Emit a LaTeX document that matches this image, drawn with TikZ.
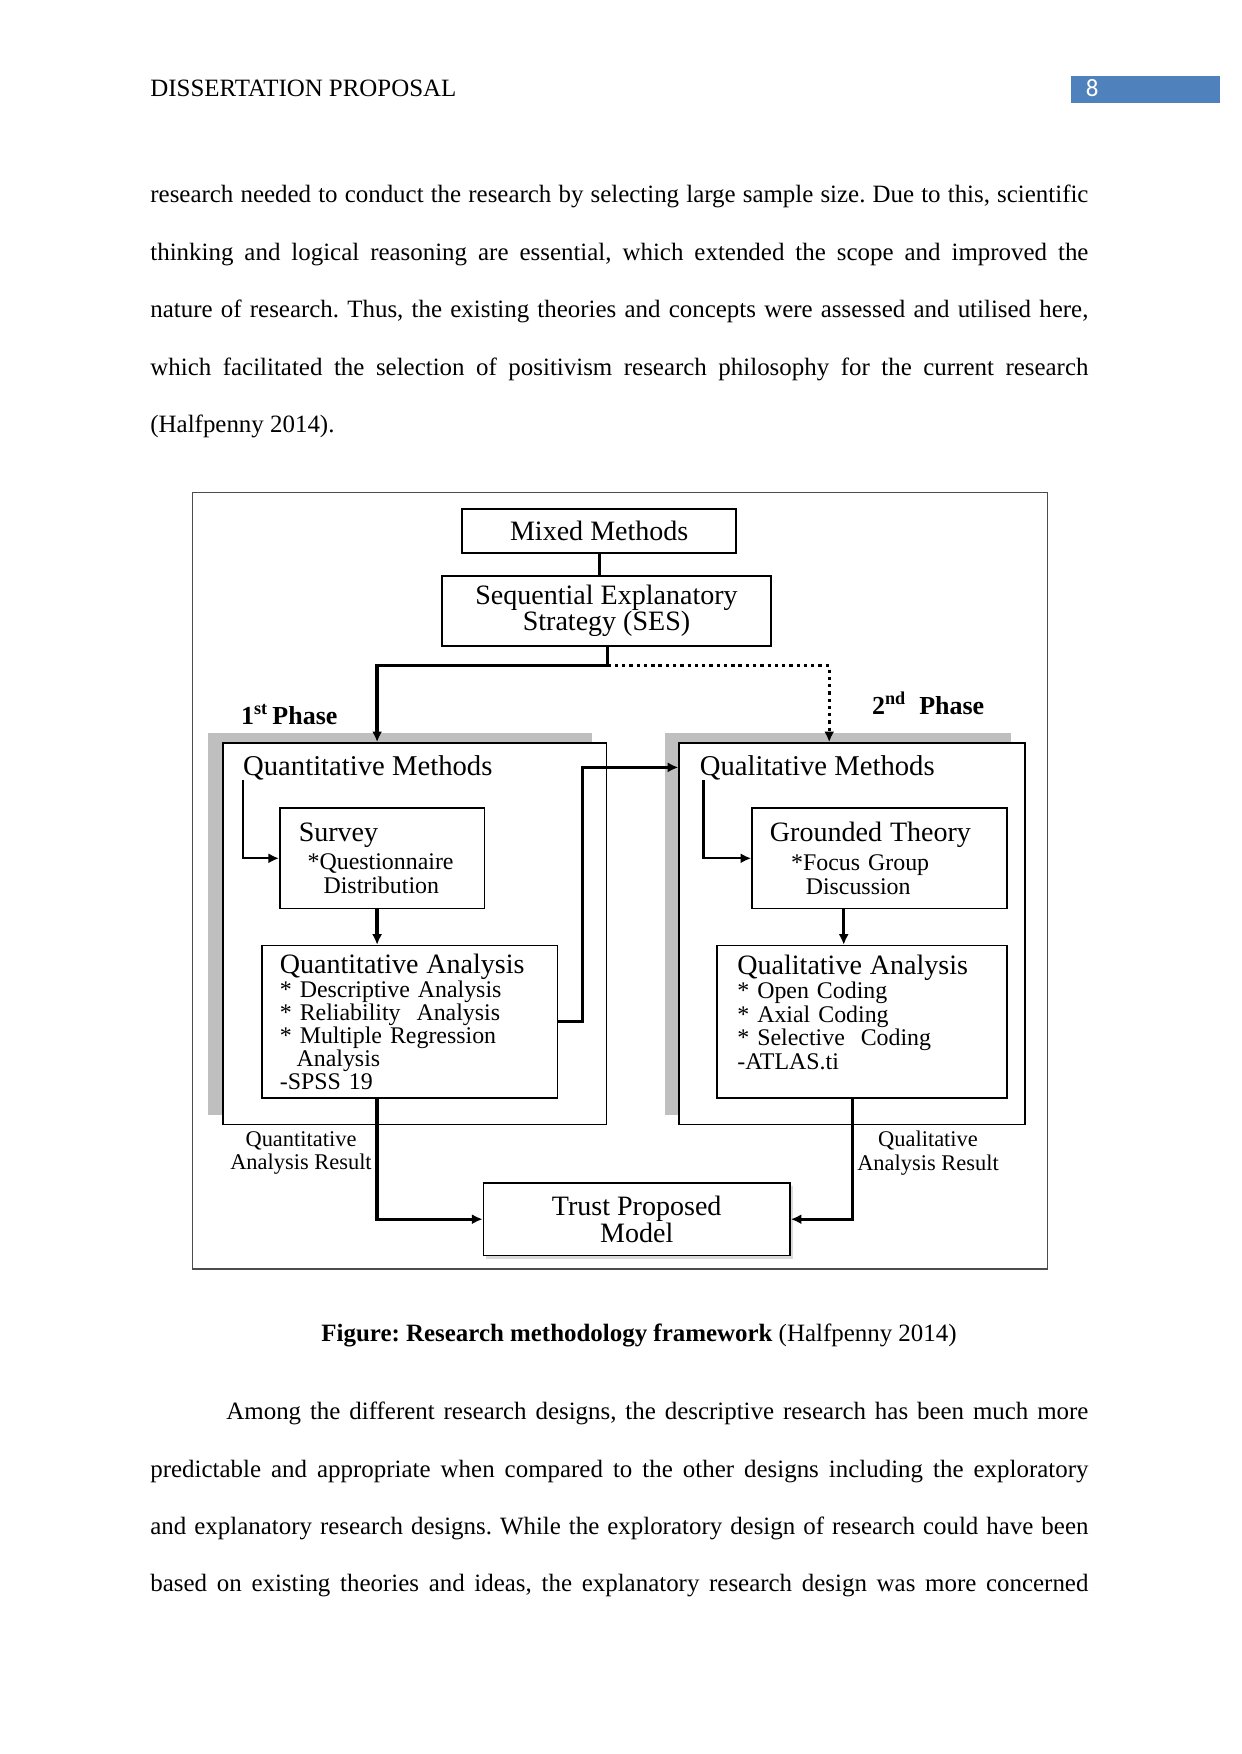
\documentclass[tikz,border=0pt]{standalone}
\usepackage{fontspec}
\setmainfont{Liberation Serif}
\newfontfamily\pagenumfont{Carlito}
\usepackage{xcolor}
\definecolor{pageblue}{RGB}{79,129,189}
\definecolor{shadowgray}{RGB}{191,191,191}
\usetikzlibrary{
  arrows.meta,
  positioning,
  calc,
  shadows
}
\frenchspacing

\begin{document}
\begin{tikzpicture}[
    x=0.16922mm, y=-0.16922mm,
    bodyline/.style={anchor=base west, inner sep=0pt, font=\fontsize{12}{14}\selectfont},
    titlebox/.style={draw, line width=0.8pt, fill=white, align=center, inner sep=0pt,
                     font=\fontsize{13.5}{12.8}\selectfont},
    methodbox/.style={draw, line width=0.8pt, fill=white, inner sep=0pt,
                      general shadow={fill=shadowgray, shadow xshift=-2.45mm, shadow yshift=1.7mm}},
    stepbox/.style={draw, line width=0.8pt, fill=white, align=left, inner ysep=0pt,
                    font=\fontsize{11.5}{11.5}\selectfont},
    boxtitle/.style={anchor=base west, inner sep=0pt, font=\fontsize{13.8}{13.8}\selectfont},
    phaselabel/.style={anchor=base west, inner sep=0pt, font=\fontsize{12.5}{12.5}\selectfont\bfseries},
    resultlabel/.style={align=center, inner sep=0pt, font=\fontsize{10.8}{11.3}\selectfont},
    conn/.style={line width=1.6pt},
    thinconn/.style={line width=1.1pt},
    >={Latex[length=1.8mm, width=1.7mm]}
  ]
  \useasboundingbox (0,0) rectangle (1241,1754);

  %% Page head
  \node[bodyline] (header) at (150,97) {DISSERTATION PROPOSAL};
  \fill[pageblue] (1071,76) rectangle (1220,103);
  \node[bodyline, font=\pagenumfont\fontsize{12}{14}\selectfont, text=white] (pagenum) at (1085.5,97) {8};

  %% Text above the figure
  \node[bodyline] (top1) at (150,203) {\makebox[158.73mm][s]{research needed to conduct the research by selecting large sample size. Due to this, scientific}};
  \node[bodyline] (top2) at (150,261) {\makebox[158.73mm][s]{thinking and logical reasoning are essential, which extended the scope and improved the}};
  \node[bodyline] (top3) at (150,318) {\makebox[158.73mm][s]{nature of research. Thus, the existing theories and concepts were assessed and utilised here,}};
  \node[bodyline] (top4) at (150,376) {\makebox[158.73mm][s]{which facilitated the selection of positivism research philosophy for the current research}};
  \node[bodyline] (top5) at (150,433) {(Halfpenny 2014).};

  %% Figure frame
  \draw[black!70, line width=0.7pt] (192.5,492.4) rectangle (1047.4,1268.9);

  %% Top of the strategy
  \node[titlebox, minimum width=46.4mm, minimum height=7.4mm] (mixed) at (599.2,531) {Mixed Methods};
  \node[titlebox, minimum width=55.67mm, minimum height=11.74mm] (ses) at (606.5,611) {Sequential Explanatory\\Strategy (SES)};

  %% Phase boxes
  \node[methodbox, minimum width=64.95mm, minimum height=64.58mm] (quant) at (414.6,933.8) {};
  \node[methodbox, minimum width=58.52mm, minimum height=64.58mm] (qual) at (852.1,933.8) {};
  \node[boxtitle] (quanttitle) at (242.8,775) {Quantitative Methods};
  \node[boxtitle] (qualtitle) at (699.4,775) {Qualitative Methods};

  \node[stepbox, inner xsep=3.2mm, text width=28.24mm, minimum height=17.04mm] (survey) at (382.2,858.3)
    {{\fontsize{13.5}{13.5}\selectfont Survey}\\[2.4pt]\hspace*{1.5mm}*Questionnaire\\\hspace*{4.2mm}Distribution};
  \node[stepbox, inner xsep=3.05mm, text width=43.9mm, minimum height=25.74mm,
        font=\fontsize{11.5}{11}\selectfont] (qa) at (409.6,1021.7)
    {{\fontsize{13.5}{13.5}\selectfont Quantitative Analysis}\\[0.8pt]{*} Descriptive Analysis\\{*} Reliability\ \ Analysis\\{*} Multiple Regression\\\hspace*{2.83mm}Analysis\\-SPSS 19};

  \node[stepbox, inner xsep=3.03mm, text width=37.11mm, minimum height=17.04mm] (gt) at (879.6,858.3)
    {{\fontsize{13.5}{13.5}\selectfont Grounded Theory}\\[2.4pt]\hspace*{3.59mm}*Focus Group\\\hspace*{6.06mm}Discussion};
  \node[stepbox, inner xsep=3.4mm, text width=42.24mm, minimum height=25.74mm,
        font=\fontsize{11.5}{11.3}\selectfont] (quala) at (862.2,1021.7)
    {{\fontsize{13.5}{13.5}\selectfont Qualitative Analysis}\\[0.5pt]{*} Open Coding\\{*} Axial Coding\\{*} Selective\ \ Coding\\-ATLAS.ti\\[-2pt]\mbox{}};

  \node[titlebox, minimum width=51.88mm, minimum height=12.3mm,
        drop shadow={fill=black!25, opacity=0.6, shadow xshift=0.5mm, shadow yshift=-0.6mm}]
    (trust) at (636.7,1219.2) {Trust Proposed\\Model};

  %% Labels
  \node[phaselabel] (phase1) at (240.6,724) {1\textsuperscript{st}\,Phase};
  \node[phaselabel] (phase2) at (871.7,714) {2\textsuperscript{nd}\ \ Phase};
  \node[resultlabel] (quantres) at (301,1153) {Quantitative\\Analysis Result};
  \node[resultlabel] (qualres) at (928,1153) {Qualitative\\Analysis Result};

  %% Connectors
  \coordinate (split) at (607.6,665.8);
  \coordinate (leftrun) at (377.1,665.8);
  \coordinate (rightrun) at (829.2,665.8);
  \coordinate (gtdown) at (843.7,0);
  \coordinate (qualdown) at (852.7,0);

  \draw[conn] (mixed.south) -- (mixed.south |- ses.north);
  \draw[conn] (ses.south -| split) -- (split);
  \draw[conn, ->] (split) -- (leftrun) -- (leftrun |- quant.north);
  \draw[conn, dash pattern=on 1.6pt off 1.9pt, ->] (split) -- (rightrun) -- (rightrun |- qual.north);

  \draw[thinconn, ->] (quanttitle.south west) |- (survey.west);
  \draw[conn, ->] (survey.south -| leftrun) -- (qa.north -| leftrun);
  \draw[conn, ->] (qa.east) -- ++(24.6,0) |- (qualtitle.west -| qual.west);
  \draw[conn, ->] (qa.south -| leftrun) |- (trust.west);

  \draw[thinconn, ->] ([xshift=0.7mm]qualtitle.south west) |- (gt.west);
  \draw[conn, ->] (gt.south -| gtdown) -- (quala.north -| gtdown);
  \draw[conn, ->] (quala.south -| qualdown) |- (trust.east);

  %% Caption
  \node[bodyline, anchor=base] (caption) at (639,1341) {\textbf{Figure: Research methodology framework} (Halfpenny 2014)};

  %% Text below the figure
  \node[bodyline] (low1) at (226,1419) {\makebox[145.87mm][s]{Among the different research designs, the descriptive research has been much more}};
  \node[bodyline] (low2) at (150,1477) {\makebox[158.73mm][s]{predictable and appropriate when compared to the other designs including the exploratory}};
  \node[bodyline] (low3) at (150,1534) {\makebox[158.73mm][s]{and explanatory research designs. While the exploratory design of research could have been}};
  \node[bodyline] (low4) at (150,1591.5) {\makebox[158.73mm][s]{based on existing theories and ideas, the explanatory research design was more concerned}};

\end{tikzpicture}
\end{document}
